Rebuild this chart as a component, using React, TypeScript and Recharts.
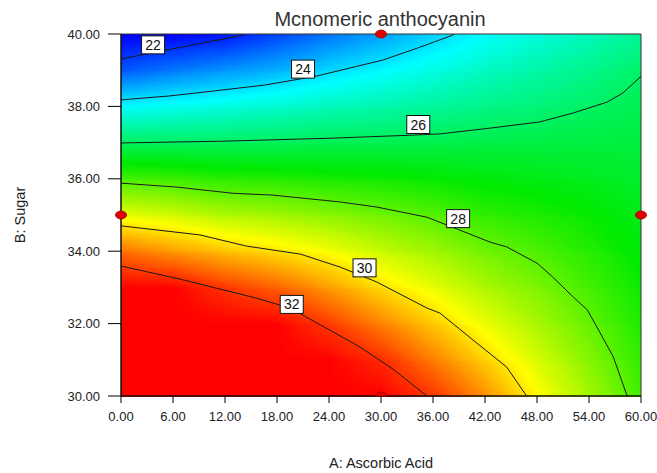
import { ScatterChart, Scatter, XAxis, YAxis, ReferenceArea } from 'recharts';

// Grid of the fitted response: one column per ascorbic acid level, one row per sugar level
const ascorbicSteps = [0, 6, 12, 18, 24, 30, 36, 42, 48, 54, 60];
const sugarSteps = [30, 31, 32, 33, 34, 35, 36, 37, 38, 39, 40];

const xTicks = [0, 6, 12, 18, 24, 30, 36, 42, 48, 54, 60];
const yTicks = [30, 32, 34, 36, 38, 40];

// monomeric anthocyanin predicted along each sugar level (A = 0 ... 60)
const sugar30 = [38.5, 37.2, 36.3, 35.3, 33.8, 32.87, 31.9, 30.9, 29.79, 28.76, 27.72];
const sugar31 = [36.7, 35.6, 34.8, 34.0, 32.83, 31.97, 31.09, 30.19, 29.3, 28.43, 27.53];
const sugar32 = [34.9, 34.0, 33.35, 32.69, 31.82, 31.03, 30.28, 29.52, 28.81, 28.1, 27.33];
const sugar33 = [33.06, 32.42, 31.85, 31.37, 30.75, 30.09, 29.49, 28.86, 28.33, 27.75, 27.14];
const sugar34 = [31.26, 30.81, 30.35, 30.03, 29.64, 29.14, 28.7, 28.2, 27.83, 27.4, 26.94];
const sugar35 = [29.49, 29.22, 28.89, 28.71, 28.46, 28.19, 27.9, 27.55, 27.32, 27.05, 26.75];
const sugar36 = [27.78, 27.64, 27.46, 27.4, 27.29, 27.19, 27.05, 26.9, 26.8, 26.69, 26.55];
const sugar37 = [26.0, 26.02, 26.06, 26.1, 26.14, 26.17, 26.2, 26.25, 26.29, 26.34, 26.36];
const sugar38 = [24.3, 24.47, 24.65, 24.81, 25.02, 25.21, 25.39, 25.6, 25.77, 25.98, 26.16];
const sugar39 = [22.55, 22.91, 23.23, 23.5, 23.91, 24.26, 24.6, 24.95, 25.24, 25.55, 25.92];
const sugar40 = [20.8, 21.35, 21.82, 22.3, 22.82, 23.31, 23.8, 24.3, 24.7, 25.05, 25.4];

const surfaceRows = [sugar30, sugar31, sugar32, sugar33, sugar34, sugar35, sugar36, sugar37, sugar38, sugar39, sugar40];

// contour lines, [A, B] pairs
const contour22: [number, number][] = [[0, 39.31], [4.7, 39.53], [14.1, 39.97], [14.2, 40]];
const contour24: [number, number][] = [
  [0, 38.18], [5.65, 38.29], [10.85, 38.43], [16.6, 38.59], [21.2, 38.78], [22.6, 38.84],
  [26.4, 39.06], [30.2, 39.28], [34.2, 39.61], [38.3, 39.97], [38.4, 40],
];
const contour26: [number, number][] = [
  [0, 36.99], [12, 37.04], [24, 37.12], [33, 37.2], [36.8, 37.24], [42.6, 37.4],
  [48.3, 37.57], [52.2, 37.82], [56.1, 38.12], [57.9, 38.37], [60, 38.83],
];
const contour28: [number, number][] = [
  [0, 35.88], [6.5, 35.77], [12.9, 35.6], [17.5, 35.55], [25.3, 35.36], [29.5, 35.22],
  [35.3, 34.94], [38.8, 34.61], [42.6, 34.25], [44.5, 34.12], [48.0, 33.67], [49.8, 33.29],
  [52.2, 32.73], [53.8, 32.38], [55.3, 31.74], [56.8, 31.08], [58.4, 30],
];
const contour30: [number, number][] = [
  [0, 34.7], [9.1, 34.45], [14.5, 34.14], [20.7, 33.92], [25.3, 33.56], [29.5, 33.15],
  [35.3, 32.43], [36.8, 32.29], [40.6, 31.55], [44.5, 30.8], [46.8, 30],
];
const contour32: [number, number][] = [
  [0, 33.59], [6.8, 33.23], [15.5, 32.71], [19.5, 32.43], [24.1, 31.82], [27.6, 31.35],
  [31.5, 30.72], [35.3, 30],
];

const contourLevels = ['22', '24', '26', '28', '30', '32'];
const contourLabelA = [3.7, 21.0, 34.3, 38.9, 28.1, 19.7];
const contourLabelB = [39.7, 39.03, 37.5, 34.9, 33.54, 32.53];

const designPoints: [number, number][] = [[30, 40], [0, 35], [60, 35]];
const edgePoints: [number, number][] = [[30, 30]];

const toPoints = (pairs: [number, number][]) => pairs.map(([a, b]) => ({ a, b }));
const contours = [contour22, contour24, contour26, contour28, contour30, contour32].map(toPoints);
const labelData = contourLevels.map((text, i) => ({ a: contourLabelA[i], b: contourLabelB[i], text }));

// evenly spaced colour stops: blue -> cyan -> green -> yellow -> red
const paletteLow = 21.6;
const paletteHigh = 32.4;
const paletteColors = [
  [0, 0, 255],
  [0, 255, 255],
  [0, 235, 0],
  [255, 255, 0],
  [255, 0, 0],
];
const channelTable = (ch: number) => paletteColors.map((c) => (c[ch] / 255).toFixed(3)).join(' ');

// response value encoded as grey, the palette filter turns grey into colour
function greyFor(v: number) {
  const t = Math.min(1, Math.max(0, (v - paletteLow) / (paletteHigh - paletteLow)));
  const g = Math.round(t * 255);
  return `rgb(${g},${g},${g})`;
}

const aMin = ascorbicSteps[0];
const aMax = ascorbicSteps[ascorbicSteps.length - 1];

// one horizontal strip between two sugar levels; upper row faded in over lower row
function SurfaceBand(props: any) {
  const { x, y, width, height, lower } = props;
  return (
    <g filter="url(#anthocyanin-palette)">
      <rect x={x} y={y} width={width} height={height + 1} fill={`url(#sugar-row-${lower})`} />
      <rect x={x} y={y} width={width} height={height + 1} fill={`url(#sugar-row-${lower + 1})`} mask="url(#upper-fade)" />
    </g>
  );
}

const noMarker = () => <g />;

function ContourLabel(props: any) {
  const { cx, cy, payload } = props;
  return (
    <g>
      <rect x={cx - 11.5} y={cy - 9} width={23} height={18} fill="#fff" stroke="#111" strokeWidth={1} />
      <text x={cx} y={cy + 5} textAnchor="middle" fontSize={14} fill="#111">
        {payload.text}
      </text>
    </g>
  );
}

function DesignDot(props: any) {
  const { cx, cy } = props;
  return <ellipse cx={cx} cy={cy} rx={5.5} ry={4} fill="#e00000" stroke="#a00000" strokeWidth={0.8} />;
}

function EdgeDot(props: any) {
  const { cx, cy } = props;
  return (
    <path
      d={`M${cx - 5.5},${cy} A5.5,4 0 0 1 ${cx + 5.5},${cy} Z`}
      fill="#e00000"
      stroke="#a00000"
      strokeWidth={0.8}
    />
  );
}

function SugarLabel(props: any) {
  const { x, y, height } = props.viewBox;
  const cx = x;
  const cy = y + height / 2;
  return (
    <text x={cx} y={cy} transform={`rotate(-90 ${cx} ${cy})`} textAnchor="middle" dominantBaseline="central" fontSize={14.5} fill="#222">
      B: Sugar
    </text>
  );
}

function AcidLabel(props: any) {
  const { x, y, width } = props.viewBox;
  return (
    <text x={x + width / 2} y={y + 67} textAnchor="middle" dominantBaseline="central" fontSize={14.5} fill="#222">
      A: Ascorbic Acid
    </text>
  );
}

const fmt = (v: number) => v.toFixed(2);

export default function App() {
  return (
    <div style={{ position: 'absolute', left: 0, top: 0, width: 657, height: 473, background: '#fff', fontFamily: '"Liberation Sans", Arial, sans-serif' }}>
      <div style={{ position: 'absolute', left: 230, top: 9, width: 300, textAlign: 'center', fontSize: 20, lineHeight: '20px', color: '#333' }}>
        Mcnomeric anthocyanin
      </div>
      <ScatterChart width={657} height={473} margin={{ top: 34, right: 16, bottom: 7, left: 20 }}>
        <defs>
          {surfaceRows.map((row, i) => (
            <linearGradient key={i} id={`sugar-row-${i}`} x1="0" y1="0" x2="1" y2="0">
              {row.map((v, j) => (
                <stop key={j} offset={(ascorbicSteps[j] - aMin) / (aMax - aMin)} stopColor={greyFor(v)} />
              ))}
            </linearGradient>
          ))}
          <linearGradient id="upper-fade-grad" x1="0" y1="0" x2="0" y2="1">
            <stop offset="0" stopColor="#fff" />
            <stop offset="1" stopColor="#000" />
          </linearGradient>
          <mask id="upper-fade" maskContentUnits="objectBoundingBox">
            <rect x="0" y="0" width="1" height="1" fill="url(#upper-fade-grad)" />
          </mask>
          <filter id="anthocyanin-palette" colorInterpolationFilters="sRGB" x="0" y="0" width="1" height="1">
            <feComponentTransfer>
              <feFuncR type="table" tableValues={channelTable(0)} />
              <feFuncG type="table" tableValues={channelTable(1)} />
              <feFuncB type="table" tableValues={channelTable(2)} />
            </feComponentTransfer>
          </filter>
        </defs>
        <XAxis
          type="number"
          dataKey="a"
          domain={[0, 60]}
          ticks={xTicks}
          tickFormatter={fmt}
          height={70}
          tickSize={7}
          tickMargin={9}
          interval={0}
          tick={{ fontSize: 13, fill: '#222' }}
          axisLine={{ stroke: '#000' }}
          tickLine={{ stroke: '#000' }}
          label={<AcidLabel />}
        />
        <YAxis
          type="number"
          dataKey="b"
          domain={[30, 40]}
          ticks={yTicks}
          tickFormatter={fmt}
          width={101}
          tickSize={13}
          tickMargin={8}
          interval={0}
          tick={{ fontSize: 13, fill: '#222' }}
          axisLine={{ stroke: '#000' }}
          tickLine={{ stroke: '#000' }}
          label={<SugarLabel />}
        />
        {sugarSteps.slice(0, -1).map((b, i) => (
          <ReferenceArea
            key={b}
            x1={aMin}
            x2={aMax}
            y1={b}
            y2={sugarSteps[i + 1]}
            ifOverflow="visible"
            shape={(p: any) => <SurfaceBand {...p} lower={i} />}
          />
        ))}
        <ReferenceArea x1={aMin} x2={aMax} y1={30} y2={40} fill="none" fillOpacity={0} stroke="#333" strokeWidth={1} ifOverflow="visible" />
        {contours.map((c, i) => (
          <Scatter key={i} data={c} line={{ stroke: '#1a1a1a', strokeWidth: 1 }} shape={noMarker} isAnimationActive={false} />
        ))}
        <Scatter data={labelData} shape={ContourLabel} isAnimationActive={false} />
        <Scatter data={toPoints(designPoints)} shape={DesignDot} isAnimationActive={false} />
        <Scatter data={toPoints(edgePoints)} shape={EdgeDot} isAnimationActive={false} />
      </ScatterChart>
    </div>
  );
}
